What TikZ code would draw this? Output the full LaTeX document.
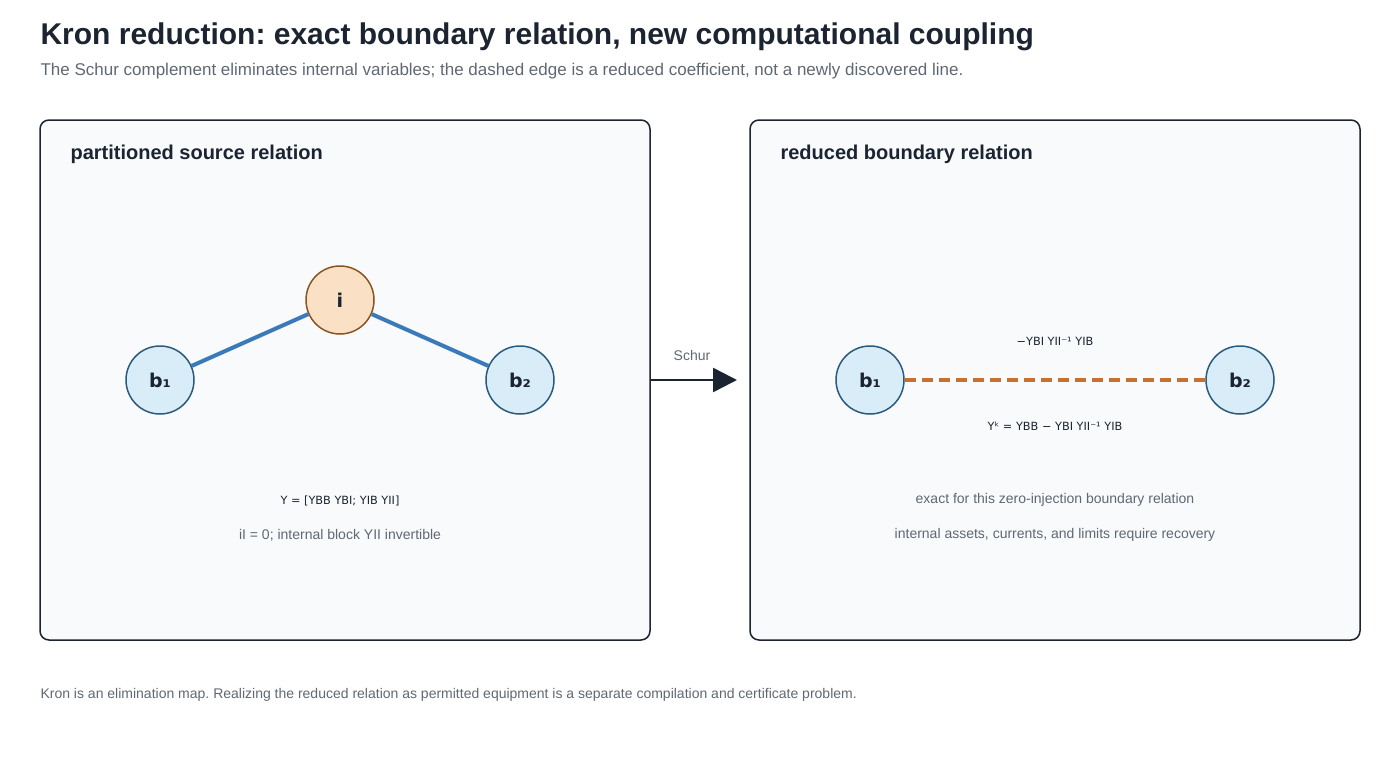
\documentclass[tikz,border=0pt]{standalone}
\usepackage{fontspec}
\setmainfont{Liberation Sans}
\newfontfamily\dv{DejaVu Sans}
\usetikzlibrary{arrows.meta}
\definecolor{ink}{HTML}{1B2430}
\definecolor{gry}{HTML}{5F6873}
\definecolor{pan}{HTML}{F8FAFC}
\definecolor{bfill}{HTML}{D9EDF8}
\definecolor{bline}{HTML}{2A5B7C}
\definecolor{ifill}{HTML}{FAE1C6}
\definecolor{iline}{HTML}{8A5420}
\definecolor{edge}{HTML}{3A7ABA}
\definecolor{orng}{HTML}{C8712F}
\tikzset{
 panel/.style={draw=ink,line width=1.5pt,fill=pan,rounded corners=9pt},
 bnode/.style={circle,draw=bline,fill=bfill,line width=1.5pt,minimum size=68pt,inner sep=0pt,font=\dv\fontsize{19}{22}\selectfont\bfseries,text=ink},
 inode/.style={bnode,draw=iline,fill=ifill},
 ptitle/.style={anchor=west,font=\fontsize{20}{24}\selectfont\bfseries,text=ink},
 small/.style={font=\dv\fontsize{11.3}{14}\selectfont,text=ink},
 note/.style={font=\fontsize{14}{17}\selectfont,text=gry},
}
\begin{document}
\frenchspacing
\begin{tikzpicture}[x=1pt,y=-1pt]
\useasboundingbox (0,0) rectangle (1400,760);
\node[anchor=west,font=\fontsize{30}{36}\selectfont\bfseries,text=ink] (t) at (37,37) {Kron reduction: exact boundary relation, new computational coupling};
\node[anchor=west,font=\fontsize{17}{22}\selectfont,text=gry] (s) at (37,71) {The Schur complement eliminates internal variables; the dashed edge is a reduced coefficient, not a newly discovered line.};
\draw[panel] (40,120) rectangle (650,640);
\draw[panel] (750,120) rectangle (1360,640);
\node[ptitle] (lt) at (67,154) {partitioned source relation};
\node[ptitle] (rt) at (777,154) {reduced boundary relation};
\node[bnode] (b1) at (160,380) {b₁};
\node[inode] (i) at (340,300) {i};
\node[bnode] (b2) at (520,380) {b₂};
\draw[edge,line width=4pt] (b1) -- (i);
\draw[edge,line width=4pt] (i) -- (b2);
\node[small] (y) at (340,501) {Y = [YBB YBI; YIB YII]};
\node[note] (n1) at (340,535) {iI = 0; internal block YII invertible};
\coordinate (a0) at (650,380);
\coordinate (a1) at (737,380);
\draw[ink,line width=2.5pt,-{Triangle[length=24pt,width=24pt]}] (a0) -- (a1);
\node[note] (sc) at (692,355) {Schur};
\node[bnode] (r1) at (870,380) {b₁};
\node[bnode] (r2) at (1240,380) {b₂};
\draw[orng,line width=4pt,dash pattern=on 11pt off 6pt] (r1) -- (r2);
\node[small] (c) at (1055,341) {−YBI YII⁻¹ YIB};
\node[small] (k) at (1055,426) {Yᵏ = YBB − YBI YII⁻¹ YIB};
\node[note] (n2) at (1055,500) {exact for this zero-injection boundary relation};
\node[note] (n3) at (1055,535) {internal assets, currents, and limits require recovery};
\node[anchor=west,font=\fontsize{14}{17}\selectfont,text=gry] (f) at (37,695) {Kron is an elimination map. Realizing the reduced relation as permitted equipment is a separate compilation and certificate problem.};
\end{tikzpicture}
\end{document}
